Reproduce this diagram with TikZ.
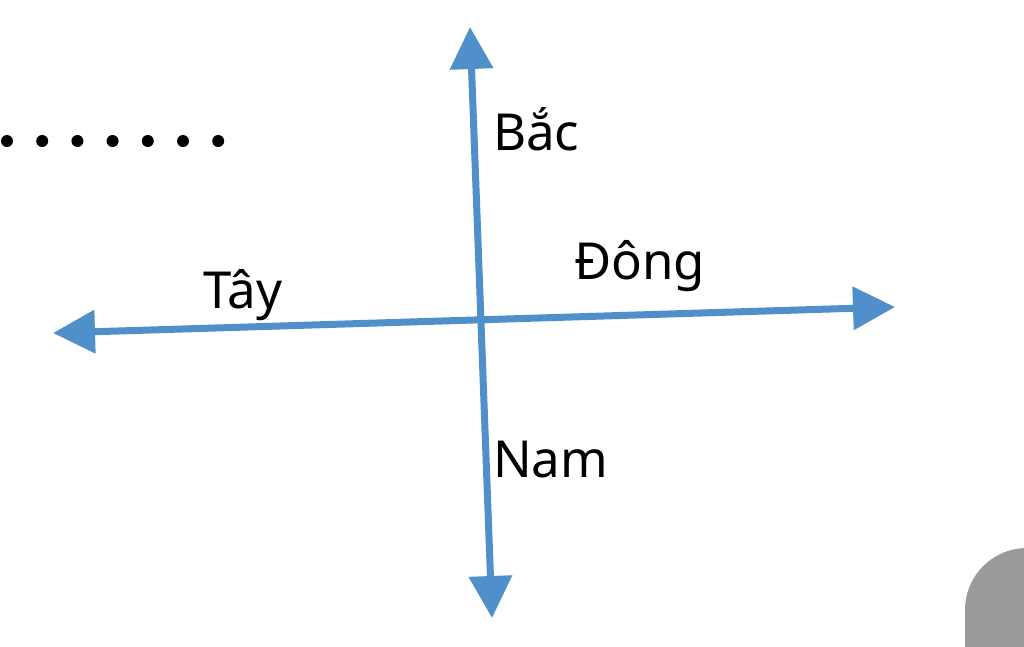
\documentclass[tikz,border=0pt]{standalone}
\usepackage{fontspec}
\setmainfont{Noto Sans}
\usetikzlibrary{arrows.meta}
\definecolor{axisblue}{RGB}{80,144,202}
\definecolor{cornergray}{RGB}{154,154,154}
\tikzset{
	axis/.style={draw=axisblue,line width=7pt,{Triangle[length=42pt,width=42pt]}-{Triangle[length=42pt,width=42pt]}},
	lbl/.style={anchor=base west,inner sep=0pt,font=\fontsize{51}{58}\selectfont},
	dot/.style={fill=black,circle,inner sep=0pt,minimum size=12pt}
}
\begin{document}
\begin{tikzpicture}[x=1pt,y=-1pt]
		\clip (0,0) rectangle (1024,646);
		\fill[white] (0,0) rectangle (1024,646);
		% dotted line top left
		\foreach \i in {0,...,6}
			\node[dot] (d\i) at (7+35.2*\i,141) {};
		% the two axes
		\coordinate (N) at (470,27);
		\coordinate (S) at (492,618);
		\coordinate (W) at (53,333);
		\coordinate (E) at (895,307);
		\draw[axis] (N) -- (S);
		\draw[axis] (W) -- (E);
		% labels
		\node[lbl] (bac) at (493,150) {Bắc};
		\node[lbl] (dong) at (574,279) {Đông};
		\node[lbl] (tay) at (203,308) {Tây};
		\node[lbl] (nam) at (493,477) {Nam};
		% gray corner
		\fill[cornergray,rounded corners=62pt] (965,548) rectangle (1120,720);
		\end{tikzpicture}
\end{document}
